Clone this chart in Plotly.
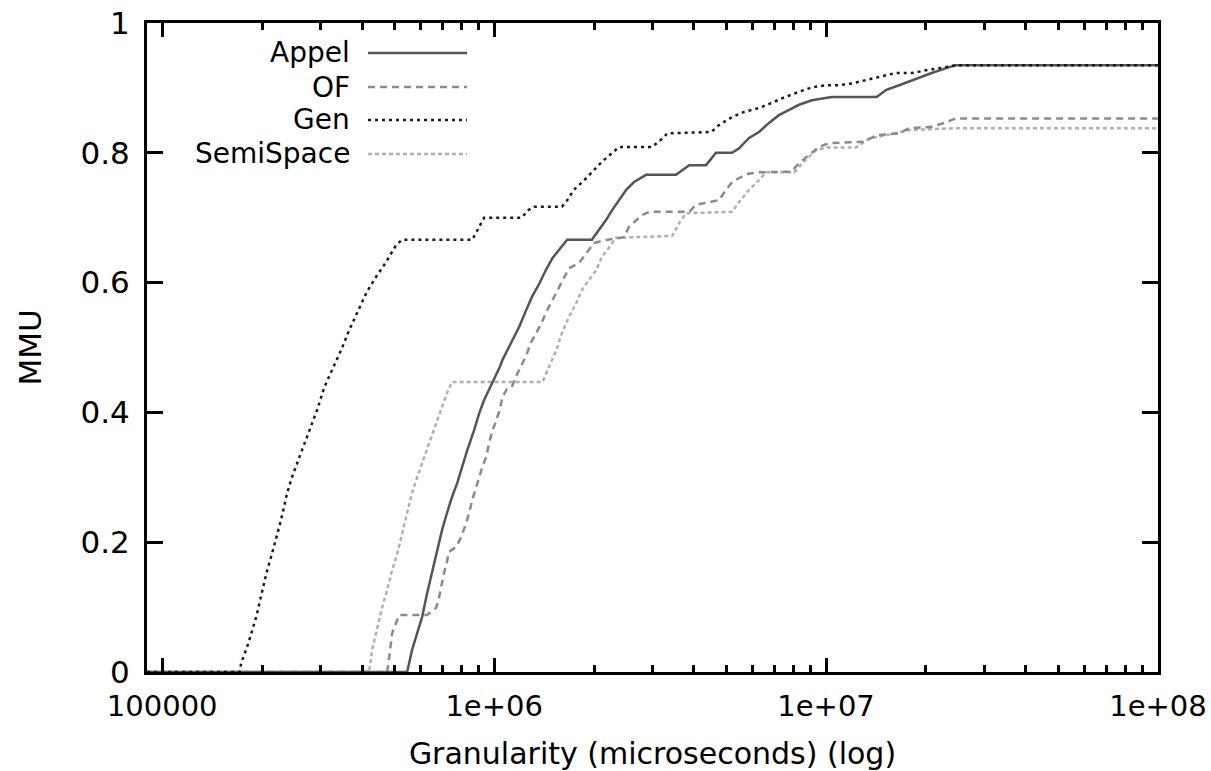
import math
import plotly.graph_objects as go

# ---- data (granularity in microseconds, MMU) ----
APPEL = [(9e4, 0), (5.47e5, 0), (5.66e5, 0.034), (5.86e5, 0.06), (6.07e5, 0.085), (6.28e5, 0.121),
         (6.50e5, 0.152), (6.73e5, 0.188), (6.97e5, 0.219), (7.21e5, 0.245), (7.47e5, 0.27),
         (7.74e5, 0.291), (8.01e5, 0.316), (8.30e5, 0.342), (8.71e5, 0.373), (9.02e5, 0.399),
         (9.33e5, 0.419), (9.66e5, 0.435), (1.0e6, 0.45), (1.04e6, 0.47), (1.06e6, 0.481),
         (1.19e6, 0.532), (1.25e6, 0.558), (1.30e6, 0.578), (1.37e6, 0.599), (1.43e6, 0.619),
         (1.50e6, 0.638), (1.57e6, 0.65), (1.66e6, 0.666), (1.97e6, 0.666), (2.07e6, 0.681),
         (2.17e6, 0.696), (2.27e6, 0.712), (2.38e6, 0.727), (2.50e6, 0.743), (2.64e6, 0.755),
         (2.87e6, 0.766), (3.53e6, 0.766), (3.79e6, 0.778), (3.87e6, 0.781), (4.35e6, 0.781),
         (4.66e6, 0.80), (5.21e6, 0.80), (5.47e6, 0.807), (5.86e6, 0.823), (6.28e6, 0.832),
         (6.73e6, 0.846), (7.21e6, 0.858), (7.74e6, 0.866), (8.29e6, 0.874), (9.07e6, 0.881),
         (1.04e7, 0.886), (1.42e7, 0.886), (1.52e7, 0.897), (1.66e7, 0.904), (1.82e7, 0.912),
         (2.08e7, 0.923), (2.35e7, 0.932), (2.46e7, 0.935), (1e8, 0.935)]

OF = [(9e4, 0), (4.76e5, 0), (4.83e5, 0.023), (4.89e5, 0.042), (4.93e5, 0.06), (5.07e5, 0.076),
      (5.18e5, 0.088), (6.28e5, 0.088), (6.69e5, 0.099), (6.82e5, 0.114), (6.92e5, 0.131),
      (7.06e5, 0.152), (7.21e5, 0.17), (7.31e5, 0.185), (7.69e5, 0.193), (7.96e5, 0.208),
      (8.24e5, 0.23), (8.41e5, 0.245), (8.59e5, 0.265), (8.83e5, 0.283), (9.02e5, 0.30),
      (9.21e5, 0.316), (9.46e5, 0.331), (9.66e5, 0.353), (9.86e5, 0.37), (1.01e6, 0.385),
      (1.04e6, 0.404), (1.06e6, 0.424), (1.09e6, 0.435), (1.13e6, 0.439), (1.17e6, 0.458),
      (1.21e6, 0.473), (1.25e6, 0.488), (1.29e6, 0.507), (1.34e6, 0.522), (1.39e6, 0.538),
      (1.43e6, 0.553), (1.50e6, 0.573), (1.57e6, 0.592), (1.62e6, 0.607), (1.68e6, 0.622),
      (1.80e6, 0.63), (1.89e6, 0.645), (2.00e6, 0.661), (2.14e6, 0.665), (2.46e6, 0.67),
      (2.55e6, 0.686), (2.68e6, 0.696), (2.79e6, 0.704), (2.93e6, 0.709), (3.87e6, 0.709),
      (4.06e6, 0.72), (4.38e6, 0.723), (4.76e6, 0.727), (5.00e6, 0.743), (5.21e6, 0.755),
      (5.74e6, 0.767), (6.28e6, 0.77), (7.85e6, 0.771), (8.29e6, 0.784), (8.89e6, 0.797),
      (9.53e6, 0.809), (1.02e7, 0.815), (1.30e7, 0.817), (1.42e7, 0.827), (1.66e7, 0.83),
      (1.78e7, 0.838), (2.08e7, 0.84), (2.30e7, 0.847), (2.46e7, 0.853), (1e8, 0.853)]

GEN = [(9e4, 0), (1.71e5, 0), (1.73e5, 0.014), (1.82e5, 0.045), (1.92e5, 0.085), (2.06e5, 0.152),
       (2.17e5, 0.193), (2.28e5, 0.234), (2.38e5, 0.276), (2.46e5, 0.30), (2.59e5, 0.331),
       (2.71e5, 0.357), (2.83e5, 0.384), (2.93e5, 0.404), (3.08e5, 0.439), (3.25e5, 0.465),
       (3.46e5, 0.496), (3.66e5, 0.527), (3.87e5, 0.553), (4.12e5, 0.584), (4.41e5, 0.609),
       (4.73e5, 0.632), (5.07e5, 0.658), (5.28e5, 0.666), (8.59e5, 0.666), (8.89e5, 0.681),
       (9.33e5, 0.70), (1.21e6, 0.70), (1.27e6, 0.712), (1.32e6, 0.717), (1.60e6, 0.717),
       (1.66e6, 0.727), (1.74e6, 0.743), (1.87e6, 0.758), (1.97e6, 0.77), (2.11e6, 0.786),
       (2.27e6, 0.80), (2.38e6, 0.809), (2.99e6, 0.809), (3.10e6, 0.815), (3.25e6, 0.824),
       (3.32e6, 0.83), (4.51e6, 0.832), (4.76e6, 0.843), (5.21e6, 0.855), (5.66e6, 0.863),
       (6.28e6, 0.869), (6.87e6, 0.877), (7.36e6, 0.884), (8.29e6, 0.894), (9.07e6, 0.901),
       (1.0e7, 0.904), (1.09e7, 0.904), (1.2e7, 0.907), (1.32e7, 0.912), (1.44e7, 0.917),
       (1.62e7, 0.923), (1.82e7, 0.923), (2.04e7, 0.928), (2.30e7, 0.932), (2.46e7, 0.935),
       (1e8, 0.935)]

SEMISPACE = [(9e4, 0), (4.20e5, 0), (4.29e5, 0.034), (4.51e5, 0.08), (4.60e5, 0.10), (4.76e5, 0.126),
             (4.93e5, 0.157), (5.11e5, 0.183), (5.28e5, 0.214), (5.47e5, 0.245), (5.66e5, 0.276),
             (5.86e5, 0.30), (6.07e5, 0.322), (6.28e5, 0.342), (6.50e5, 0.362), (6.73e5, 0.384),
             (6.97e5, 0.408), (7.21e5, 0.43), (7.47e5, 0.447), (1.40e6, 0.447), (1.44e6, 0.462),
             (1.49e6, 0.478), (1.54e6, 0.496), (1.60e6, 0.522), (1.68e6, 0.547), (1.77e6, 0.569),
             (1.84e6, 0.589), (1.93e6, 0.604), (2.03e6, 0.619), (2.11e6, 0.639), (2.22e6, 0.655),
             (2.33e6, 0.669), (3.44e6, 0.672), (3.61e6, 0.692), (3.79e6, 0.707), (5.21e6, 0.709),
             (5.47e6, 0.724), (5.86e6, 0.743), (6.15e6, 0.753), (6.59e6, 0.77), (8.02e6, 0.77),
             (8.71e6, 0.79), (9.33e6, 0.804), (1.0e7, 0.808), (1.23e7, 0.808), (1.35e7, 0.822),
             (1.55e7, 0.828), (1.78e7, 0.835), (2.46e7, 0.838), (1e8, 0.838)]

X_TICKS = [1e5, 1e6, 1e7, 1e8]
X_TICK_LABELS = ["100000", "1e+06", "1e+07", "1e+08"]
Y_TICKS = [0, 0.2, 0.4, 0.6, 0.8, 1]
Y_TICK_LABELS = ["0", "0.2", "0.4", "0.6", "0.8", "1"]
LEGEND_NAMES = ["Appel", "OF", "Gen", "SemiSpace"]

# ---- styles ----
FONT = "DejaVu Sans, Arial, sans-serif"
STYLES = {
    "Appel": dict(color="#555555", dash="solid", width=2.5),
    "OF": dict(color="#8a8a8a", dash="7px,5px", width=2.5),
    "Gen": dict(color="#1a1a1a", dash="3px,4px", width=2.5),
    "SemiSpace": dict(color="#b0b0b0", dash="4px,3px", width=2.5),
}
SERIES = {"Appel": APPEL, "OF": OF, "Gen": GEN, "SemiSpace": SEMISPACE}

fig = go.Figure()
for name in ["SemiSpace", "OF", "Appel", "Gen"]:
    pts = SERIES[name]
    fig.add_trace(go.Scatter(
        x=[p[0] for p in pts], y=[p[1] for p in pts], mode="lines", name=name,
        line=STYLES[name], showlegend=False, hoverinfo="skip"))

minor_vals = [k * 10 ** d for d in (5, 6, 7) for k in range(2, 10)]

W, H = 1211, 771
ML, MR, MT, MB = 147, 53, 23, 99
PW, PH = W - ML - MR, H - MT - MB

fig.update_layout(
    width=W, height=H,
    margin=dict(l=ML, r=MR, t=MT, b=MB, pad=0, autoexpand=False),
    paper_bgcolor="white", plot_bgcolor="white",
    font=dict(family=FONT, size=30, color="black"),
    xaxis=dict(
        type="log", range=[math.log10(9e4), 8], automargin=False,
        tickmode="array", tickvals=X_TICKS, ticktext=X_TICK_LABELS,
        ticks="inside", ticklen=14, tickwidth=3, tickcolor="black",
        showline=True, linewidth=3, linecolor="black", mirror="allticks",
        showgrid=False, zeroline=False,
        minor=dict(tickmode="array", tickvals=minor_vals, ticks="inside", ticklen=7,
                   tickwidth=3, tickcolor="black", showgrid=False),
        tickfont=dict(family=FONT, size=29),
        ticklabelstandoff=6,
        title=dict(text="Granularity (microseconds) (log)", font=dict(family=FONT, size=30),
                   standoff=22),
    ),
    yaxis=dict(
        range=[0, 1], automargin=False,
        tickmode="array", tickvals=Y_TICKS, ticktext=Y_TICK_LABELS,
        ticks="inside", ticklen=16, tickwidth=3, tickcolor="black",
        showline=True, linewidth=3, linecolor="black", mirror="allticks",
        showgrid=False, zeroline=False,
        tickfont=dict(family=FONT, size=31),
        ticklabelstandoff=8,
        title=dict(text="MMU", font=dict(family=FONT, size=31), standoff=30),
    ),
)

# gnuplot-style key: label text on the left, line sample on the right
LEG_Y_PX = [53, 87, 120, 154]
TEXT_RIGHT_PX = 350
SAMPLE_X_PX = (368, 467)
for name, ypx in zip(LEGEND_NAMES, LEG_Y_PX):
    yp = (H - MB - ypx) / PH
    fig.add_annotation(x=(TEXT_RIGHT_PX - ML) / PW, y=yp, xref="paper", yref="paper",
                       text=name, showarrow=False, xanchor="right", yanchor="middle",
                       borderpad=0, borderwidth=0,
                       font=dict(family=FONT, size=28, color="black"))
    st = STYLES[name]
    fig.add_shape(type="line", xref="paper", yref="paper",
                  x0=(SAMPLE_X_PX[0] - ML) / PW, x1=(SAMPLE_X_PX[1] - ML) / PW, y0=yp, y1=yp,
                  line=dict(color=st["color"], dash=st["dash"], width=st["width"]))

fig.write_html("out.html")
